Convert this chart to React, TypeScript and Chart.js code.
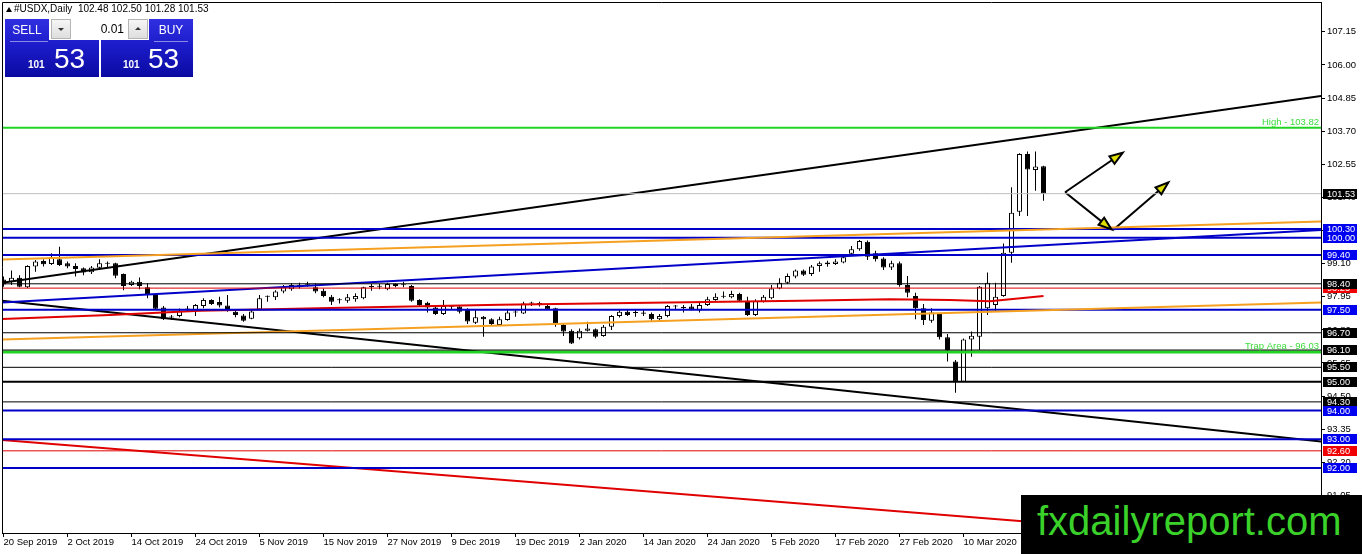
import React, { useEffect, useRef } from "react";
import { Chart, registerables } from "chart.js";

Chart.register(...registerables);

const FONT = '"Liberation Sans", Arial, sans-serif';

// ---- data ----
const dateLabels = [
  "20 Sep 2019", "2 Oct 2019", "14 Oct 2019", "24 Oct 2019", "5 Nov 2019", "15 Nov 2019",
  "27 Nov 2019", "9 Dec 2019", "19 Dec 2019", "2 Jan 2020", "14 Jan 2020", "24 Jan 2020",
  "5 Feb 2020", "17 Feb 2020", "27 Feb 2020", "10 Mar 2020", "20 Mar 2020",
];
const dateBars = [0, 8, 16, 24, 32, 40, 48, 56, 64, 72, 80, 88, 96, 104, 112, 120, 128];

const opens = [
  98.55, 98.47, 98.61, 98.28, 99.0, 99.19, 99.09, 99.25, 99.11, 99.02,
  98.94, 98.8, 98.96, 99.1, 99.11, 98.74, 98.36, 98.47, 98.28, 98.01,
  97.58, 97.24, 97.28, 97.51, 97.49, 97.63, 97.84, 97.77, 97.65, 97.43,
  97.3, 97.19, 97.51, 97.95, 97.93, 98.13, 98.21, 98.28, 98.38, 98.28,
  98.16, 97.95, 97.83, 97.81, 97.86, 97.9, 98.29, 98.3, 98.21, 98.39,
  98.36, 98.32, 97.84, 97.74, 97.58, 97.35, 97.6, 97.61, 97.49, 97.05,
  97.26, 97.17, 96.97, 97.14, 97.4, 97.37, 97.72, 97.72, 97.63, 97.55,
  96.97, 96.77, 96.51, 96.77, 96.82, 96.59, 96.91, 97.28, 97.43, 97.4,
  97.4, 97.35, 97.17, 97.28, 97.61, 97.59, 97.61, 97.47, 97.66, 97.84,
  97.95, 97.93, 98.05, 97.81, 97.32, 97.78, 97.9, 98.24, 98.44, 98.65,
  98.86, 98.74, 99.02, 99.08, 99.09, 99.14, 99.44, 99.6, 99.86, 99.46,
  99.28, 98.97, 99.11, 98.36, 97.98, 97.55, 97.12, 97.35, 96.54, 95.7,
  95.0, 96.47, 96.56, 97.55, 97.66, 97.98, 99.48, 100.9, 102.91, 102.35, 102.48,
];
const highs = [
  98.65, 98.86, 98.7, 99.04, 99.23, 99.25, 99.46, 99.69, 99.17, 99.11,
  98.97, 99.02, 99.25, 99.17, 99.13, 98.76, 98.51, 98.62, 98.42, 98.03,
  97.63, 97.32, 97.54, 97.63, 97.7, 97.9, 97.86, 97.95, 98.01, 97.49,
  97.35, 97.51, 98.01, 97.99, 98.18, 98.36, 98.42, 98.44, 98.47, 98.42,
  98.24, 98.01, 97.9, 98.05, 98.07, 98.3, 98.39, 98.39, 98.44, 98.42,
  98.47, 98.36, 97.86, 97.78, 97.63, 97.84, 97.66, 97.66, 97.55, 97.49,
  97.28, 97.2, 97.26, 97.49, 97.51, 97.78, 97.78, 97.78, 97.66, 97.57,
  97.0, 96.82, 96.85, 97.08, 96.85, 96.97, 97.32, 97.51, 97.51, 97.49,
  97.49, 97.4, 97.35, 97.66, 97.66, 97.66, 97.7, 97.78, 97.95, 98.07,
  98.13, 98.16, 98.09, 97.95, 97.86, 98.01, 98.36, 98.59, 98.76, 98.9,
  98.9, 99.05, 99.17, 99.2, 99.25, 99.4, 99.71, 99.92, 99.9, 99.55,
  99.32, 99.2, 99.17, 98.67, 98.09, 97.7, 97.55, 97.38, 96.66, 95.75,
  96.5, 96.74, 98.32, 98.79, 98.44, 99.8, 101.75, 102.93, 102.99, 102.99, 102.5,
];
const lows = [
  98.3, 98.36, 98.28, 98.25, 98.82, 99.0, 99.05, 99.02, 98.94, 98.65,
  98.7, 98.74, 98.88, 98.97, 98.59, 98.18, 98.32, 98.21, 97.9, 97.49,
  97.14, 97.14, 97.24, 97.43, 97.28, 97.55, 97.66, 97.58, 97.43, 97.24,
  97.08, 97.17, 97.49, 97.78, 97.84, 98.07, 98.16, 98.24, 98.3, 98.07,
  97.93, 97.66, 97.72, 97.74, 97.78, 97.86, 98.16, 98.21, 98.18, 98.28,
  98.28, 97.78, 97.63, 97.4, 97.32, 97.32, 97.49, 97.37, 97.0, 97.0,
  96.56, 96.97, 96.94, 97.12, 97.26, 97.35, 97.63, 97.61, 97.49, 96.91,
  96.59, 96.31, 96.47, 96.74, 96.51, 96.56, 96.8, 97.23, 97.28, 97.26,
  97.28, 97.12, 97.12, 97.24, 97.49, 97.4, 97.47, 97.4, 97.63, 97.81,
  97.9, 97.9, 97.78, 97.28, 97.28, 97.75, 97.86, 98.21, 98.39, 98.59,
  98.67, 98.67, 98.82, 98.99, 99.05, 99.11, 99.4, 99.55, 99.23, 99.17,
  98.88, 98.88, 98.3, 97.93, 97.17, 96.97, 97.05, 96.47, 95.7, 94.62,
  95.0, 95.87, 96.1, 97.32, 97.43, 97.95, 99.13, 100.75, 100.75, 101.63, 101.28,
];
const closes = [
  98.38, 98.61, 98.3, 99.02, 99.17, 99.08, 99.32, 99.05, 99.0, 98.91,
  98.79, 98.97, 99.11, 99.12, 98.68, 98.32, 98.47, 98.32, 98.05, 97.53,
  97.17, 97.23, 97.45, 97.52, 97.66, 97.84, 97.7, 97.65, 97.49, 97.32,
  97.12, 97.44, 97.9, 97.96, 98.13, 98.28, 98.36, 98.36, 98.37, 98.13,
  97.98, 97.78, 97.85, 97.93, 97.98, 98.28, 98.31, 98.31, 98.39, 98.32,
  98.35, 97.81, 97.66, 97.58, 97.35, 97.63, 97.61, 97.43, 97.09, 97.24,
  97.17, 97.0, 97.17, 97.4, 97.41, 97.72, 97.73, 97.7, 97.51, 97.03,
  96.74, 96.33, 96.77, 96.85, 96.56, 96.91, 97.28, 97.43, 97.32, 97.39,
  97.36, 97.17, 97.28, 97.63, 97.63, 97.56, 97.51, 97.66, 97.86, 97.95,
  97.96, 98.05, 97.81, 97.32, 97.81, 97.95, 98.24, 98.44, 98.67, 98.86,
  98.71, 99.0, 99.11, 99.14, 99.17, 99.32, 99.6, 99.89, 99.34, 99.25,
  98.97, 99.11, 98.36, 98.09, 97.55, 97.14, 97.4, 96.54, 96.1, 95.0,
  96.47, 96.6, 98.3, 98.44, 97.95, 99.48, 100.87, 102.91, 102.37, 102.47, 101.53,
];

const priceTicks = [
  107.15, 106.0, 104.85, 103.7, 102.55, 101.4, 100.25, 99.1, 97.95, 96.8,
  95.65, 94.5, 93.35, 92.2, 91.05, 89.9,
];

// horizontal levels
const blueLevels = [100.3, 100.0, 99.4, 97.5, 94.0, 93.0, 92.0];
const blackLevels = [98.4, 96.7, 96.1, 95.5, 94.3];
const boldBlackLevels = [95.0];
const redLevels = [98.25, 92.6];
const highLevel = 103.82;
const trapLevel = 96.03;
const lastPrice = 101.53;
const headerOHLC = [102.48, 102.5, 101.28, 101.53];

// price boxes on the right axis (drawing order)
const boxPrices = [101.53, 100.3, 100.0, 99.4, 98.25, 98.4, 97.5, 96.7, 96.1, 95.5, 95.0, 94.3, 94.0, 93.0, 92.6, 92.0];

// trend lines: [bar, price] pairs
const blackRising = [[-0.19, 98.44], [164.69, 104.92]];
const blackFalling = [[-0.19, 97.81], [164.69, 92.92]];
const redFalling = [[-0.19, 92.98], [164.69, 89.33]];
const blueRising = [[-0.19, 97.75], [164.69, 100.27]];
const orangeUpper = [[-0.19, 99.24], [164.69, 100.56]];
const orangeLower = [[-0.19, 96.47], [164.69, 97.75]];
const redAverage = [
  [-0.19, 97.18], [13.3, 97.32], [24.6, 97.46], [40.8, 97.56], [62.1, 97.67], [80.8, 97.74],
  [99.6, 97.81], [110.8, 97.86], [118.3, 97.84], [123.3, 97.79], [130, 97.98],
];
// arrows: [bar0, price0, bar1, price1]
const arrows = [
  [132.7, 101.58, 139.9, 102.95],
  [132.7, 101.58, 138.5, 100.29],
  [138.7, 100.27, 145.6, 101.92],
];

// ---- layout / style ----
const X_MIN = -0.1875;
const X_MAX = 164.6875;
const Y_MIN = 89.747;
const Y_MAX = 108.185;

const BLUE = "#0000c8";
const BOX_BLUE = "#0000f0";
const ORANGE = "#f5a020";
const RED = "#e00000";
const GREEN = "#22d422";
const GREEN_TEXT = "#3cdc3c";

const lineDs = (pts: number[][], color: string, width: number) => ({
  type: "line" as const,
  data: pts.map(([x, y]) => ({ x, y })),
  borderColor: color,
  borderWidth: width,
  pointRadius: 0,
  pointHoverRadius: 0,
  fill: false,
  tension: 0,
  order: 0,
  clip: 0,
});
const hLine = (p: number, color: string, width: number) =>
  lineDs([[X_MIN, p], [X_MAX, p]], color, width);

function boxColor(p: number) {
  if (blueLevels.includes(p)) return BOX_BLUE;
  if (redLevels.includes(p)) return "#f00000";
  return "#000";
}

const overlayPlugin = {
  id: "overlay",
  afterDatasetsDraw(chart: any) {
    const { ctx, chartArea: a, scales } = chart;
    const x = scales.x;
    const y = scales.y;
    ctx.save();
    // captions
    ctx.font = `9.5px ${FONT}`;
    ctx.textAlign = "right";
    ctx.textBaseline = "alphabetic";
    ctx.fillStyle = GREEN_TEXT;
    ctx.fillText(`High - ${highLevel.toFixed(2)}`, a.right - 2, y.getPixelForValue(highLevel) - 3);
    ctx.fillText(`Trap Area - ${trapLevel.toFixed(2)}`, a.right - 2, y.getPixelForValue(trapLevel) - 3);
    // arrow heads
    arrows.forEach(([b0, p0, b1, p1]) => {
      const x0 = x.getPixelForValue(b0);
      const y0 = y.getPixelForValue(p0);
      const x1 = x.getPixelForValue(b1);
      const y1 = y.getPixelForValue(p1);
      const ang = Math.atan2(y1 - y0, x1 - x0);
      const c = Math.cos(ang);
      const s = Math.sin(ang);
      const L = 13;
      const W = 4.5;
      const bx = x1 - L * c;
      const by = y1 - L * s;
      ctx.beginPath();
      ctx.moveTo(x1, y1);
      ctx.lineTo(bx + W * s, by - W * c);
      ctx.lineTo(bx - W * s, by + W * c);
      ctx.closePath();
      ctx.fillStyle = "#dede00";
      ctx.fill();
      ctx.lineWidth = 2;
      ctx.strokeStyle = "#000";
      ctx.stroke();
    });
    // frame top/left
    ctx.strokeStyle = "#000";
    ctx.lineWidth = 1;
    ctx.beginPath();
    ctx.moveTo(a.left + 0.5, a.bottom);
    ctx.lineTo(a.left + 0.5, a.top + 0.5);
    ctx.lineTo(a.right, a.top + 0.5);
    ctx.stroke();
    ctx.restore();
  },
  afterDraw(chart: any) {
    const { ctx, chartArea: a, scales } = chart;
    const y = scales.y;
    ctx.save();
    ctx.font = `9.2px ${FONT}`;
    ctx.textAlign = "left";
    ctx.textBaseline = "middle";
    boxPrices.forEach((p) => {
      const py = y.getPixelForValue(p);
      const top = Math.round(py - 5);
      ctx.fillStyle = boxColor(p);
      ctx.fillRect(a.right + 2, top, 34, 10);
      ctx.fillStyle = "#fff";
      ctx.fillText(p.toFixed(2), a.right + 6, top + 5.5);
    });
    ctx.restore();
  },
};

export default function App() {
  const ref = useRef<HTMLCanvasElement>(null);

  useEffect(() => {
    document.body.style.margin = "0";
    const idx = opens.map((_, i) => i);
    const datasets: any[] = [
      // level lines
      hLine(lastPrice, "#bdbdbd", 1),
      ...blackLevels.map((p) => hLine(p, "#000", 1)),
      ...boldBlackLevels.map((p) => hLine(p, "#000", 2)),
      ...redLevels.map((p) => hLine(p, RED, 1)),
      hLine(highLevel, GREEN, 2),
      hLine(trapLevel, GREEN, 3),
      lineDs(orangeUpper, ORANGE, 2),
      lineDs(orangeLower, ORANGE, 2),
      ...blueLevels.map((p) => hLine(p, BLUE, 2)),
      lineDs(blueRising, BLUE, 2),
      lineDs(redAverage, RED, 2),
      lineDs(redFalling, RED, 2),
      lineDs(blackRising, "#000", 2),
      lineDs(blackFalling, "#000", 2),
      ...arrows.map(([b0, p0, b1, p1]) => lineDs([[b0, p0], [b1, p1]], "#000", 2)),
      // candle wicks
      {
        type: "bar",
        data: idx.map((i) => ({ x: i, y: [lows[i], highs[i]] })),
        backgroundColor: "#000",
        borderWidth: 0,
        barThickness: 1,
        maxBarThickness: 1,
        grouped: false,
        inflateAmount: 0,
        order: 3,
        clip: 0,
      },
      // candle bodies
      {
        type: "bar",
        data: idx.map((i) => ({ x: i, y: [opens[i], closes[i]] })),
        backgroundColor: idx.map((i) => (closes[i] >= opens[i] ? "#fff" : "#000")),
        borderColor: "#000",
        borderWidth: 1,
        borderSkipped: false,
        barThickness: 5,
        maxBarThickness: 5,
        minBarLength: 1,
        grouped: false,
        inflateAmount: 0,
        order: 2,
        clip: 0,
      },
    ];

    const chart = new Chart(ref.current as HTMLCanvasElement, {
      type: "bar",
      data: { datasets },
      options: {
        animation: false,
        responsive: false,
        events: [],
        layout: { padding: { left: 2, top: 2, right: 0, bottom: 0 } },
        plugins: { legend: { display: false }, tooltip: { enabled: false } },
        scales: {
          x: {
            type: "linear",
            min: X_MIN,
            max: X_MAX,
            offset: false,
            grid: { display: true, drawOnChartArea: false, drawTicks: true, tickLength: 4, color: "#000", offset: false },
            border: { display: true, color: "#000", width: 1 },
            ticks: {
              autoSkip: false,
              maxRotation: 0,
              minRotation: 0,
              align: "start",
              padding: 0,
              color: "#000",
              font: { family: FONT, size: 9.5 },
              callback: (_v: any, i: number) => dateLabels[i],
            },
            afterBuildTicks: (s: any) => {
              s.ticks = dateBars.map((v) => ({ value: v }));
            },
            afterFit: (s: any) => {
              s.height = 21;
              s.paddingLeft = 0;
              s.paddingRight = 0;
            },
          } as any,
          y: {
            type: "linear",
            position: "right",
            min: Y_MIN,
            max: Y_MAX,
            beginAtZero: false,
            grid: { display: true, drawOnChartArea: false, drawTicks: true, tickLength: 4, color: "#000" },
            border: { display: true, color: "#000", width: 1 },
            ticks: {
              autoSkip: false,
              padding: 2,
              color: "#000",
              font: { family: FONT, size: 9.5 },
              callback: (v: any) => Number(v).toFixed(2),
            },
            afterBuildTicks: (s: any) => {
              s.ticks = priceTicks.map((v) => ({ value: v }));
            },
            afterFit: (s: any) => {
              s.width = 41;
              s.paddingTop = 0;
              s.paddingBottom = 0;
            },
          } as any,
        },
      } as any,
      plugins: [overlayPlugin],
    });
    return () => chart.destroy();
  }, []);

  const blueBg = "linear-gradient(180deg, #3030e2 0%, #1c1cca 45%, #0a0aa2 100%)";
  const big = String(Math.floor(lastPrice));
  const small = lastPrice.toFixed(2).split(".")[1];
  const abs = (s: React.CSSProperties): React.CSSProperties => ({ position: "absolute", ...s });

  return (
    <div style={{ position: "relative", width: 1362, height: 554, overflow: "hidden", background: "#fff", fontFamily: FONT }}>
      <canvas ref={ref} width={1362} height={554} style={{ position: "absolute", left: 0, top: 0 }} />

      {/* header */}
      <div style={abs({ left: 6, top: 7, width: 0, height: 0, borderLeft: "3px solid transparent", borderRight: "3px solid transparent", borderBottom: "5px solid #000" })} />
      <div style={abs({ left: 14, top: 3, fontSize: 10, lineHeight: "12px", color: "#000", whiteSpace: "pre" })}>
        {"#USDX,Daily  " + headerOHLC.map((v) => v.toFixed(2)).join(" ")}
      </div>

      {/* one-click trading panel */}
      <div style={abs({ left: 5, top: 19, width: 94, height: 58, background: blueBg })} />
      <div style={abs({ left: 101, top: 19, width: 92, height: 58, background: blueBg })} />
      <div style={abs({ left: 49, top: 19, width: 100, height: 21, background: "#fff" })} />
      <div style={abs({ left: 51, top: 19, width: 20, height: 20, background: "linear-gradient(#f6f6f6,#dedede)", border: "1px solid #b4b4b4", boxSizing: "border-box" })}>
        <div style={abs({ left: 6, top: 8, width: 0, height: 0, borderLeft: "3px solid transparent", borderRight: "3px solid transparent", borderTop: "3px solid #333" })} />
      </div>
      <div style={abs({ left: 71, top: 19, width: 53, height: 20, textAlign: "right", fontSize: 12, lineHeight: "20px", color: "#000" })}>0.01</div>
      <div style={abs({ left: 128, top: 19, width: 20, height: 20, background: "linear-gradient(#f6f6f6,#dedede)", border: "1px solid #b4b4b4", boxSizing: "border-box" })}>
        <div style={abs({ left: 6, top: 7, width: 0, height: 0, borderLeft: "3px solid transparent", borderRight: "3px solid transparent", borderBottom: "3px solid #333" })} />
      </div>
      <div style={abs({ left: 5, top: 20, width: 44, height: 20, textAlign: "center", fontSize: 12, lineHeight: "20px", color: "#fff" })}>SELL</div>
      <div style={abs({ left: 149, top: 20, width: 44, height: 20, textAlign: "center", fontSize: 12, lineHeight: "20px", color: "#fff" })}>BUY</div>
      <div style={abs({ left: 10, top: 41, width: 38, height: 1, background: "#8a8ae6" })} />
      <div style={abs({ left: 154, top: 41, width: 34, height: 1, background: "#8a8ae6" })} />
      <div style={abs({ left: 28, top: 60, fontSize: 10, fontWeight: "bold", lineHeight: "10px", color: "#fff" })}>{big}</div>
      <div style={abs({ left: 54, top: 44.5, fontSize: 28, lineHeight: "28px", color: "#fff" })}>{small}</div>
      <div style={abs({ left: 123, top: 60, fontSize: 10, fontWeight: "bold", lineHeight: "10px", color: "#fff" })}>{big}</div>
      <div style={abs({ left: 148, top: 44.5, fontSize: 28, lineHeight: "28px", color: "#fff" })}>{small}</div>

      {/* watermark */}
      <div style={abs({ left: 1021, top: 495, width: 341, height: 59, background: "#000" })}>
        <div style={abs({ left: 16, top: 5.6, fontSize: 40, lineHeight: "40px", color: "#3ad22a", whiteSpace: "nowrap" })}>fxdailyreport.com</div>
      </div>
    </div>
  );
}
